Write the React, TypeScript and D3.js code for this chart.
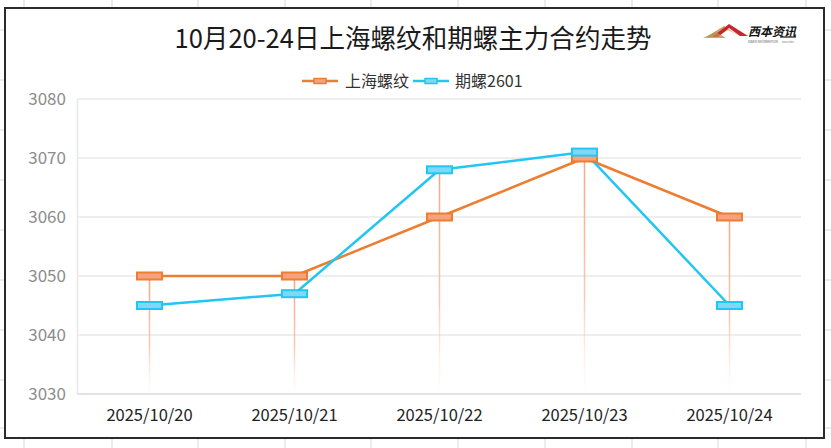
import React from "react";
import * as d3 from "d3";

const categories = ["2025/10/20", "2025/10/21", "2025/10/22", "2025/10/23", "2025/10/24"];
const spotValues = [3050, 3050, 3060, 3070, 3060];
const futuresValues = [3045, 3047, 3068, 3071, 3045];
const seriesNames = ["上海螺纹", "期螺2601"];
const yTicks = [3030, 3040, 3050, 3060, 3070, 3080];
const title = "10月20-24日上海螺纹和期螺主力合约走势";

const W = 831;
const H = 448;
const ORANGE = "#ED7D31";
const ORANGE_FILL = "#F6A27E";
const BLUE = "#22C6F2";
const BLUE_FILL = "#7FD9F6";
const FONT = "'Noto Sans CJK SC', 'Noto Sans', sans-serif";

export default function App() {
  const x = d3.scaleBand<string>().domain(categories).range([77, 802]);
  const y = d3.scaleLinear().domain([3030, 3080]).range([394, 99]);
  const cx = (c: string) => (x(c) as number) + x.bandwidth() / 2;

  const line = d3
    .line<number>()
    .x((_, i) => cx(categories[i]))
    .y((d) => y(d));

  const outerV = [24, 112, 198, 285, 371, 458, 545, 632, 718, 806];
  const outerH = [30, 80, 130, 180, 230, 280, 330, 380, 428];

  const series = [
    { name: seriesNames[0], values: spotValues, stroke: ORANGE, fill: ORANGE_FILL },
    { name: seriesNames[1], values: futuresValues, stroke: BLUE, fill: BLUE_FILL },
  ];

  return (
    <svg
      width={W}
      height={H}
      style={{ position: "fixed", left: 0, top: 0, background: "#fff" }}
      fontFamily={FONT}
    >
      <defs>
        <linearGradient id="dropGrad" x1="0" y1="0" x2="0" y2="1">
          <stop offset="0%" stopColor="#F7A584" stopOpacity={1} />
          <stop offset="60%" stopColor="#F9B79C" stopOpacity={0.75} />
          <stop offset="100%" stopColor="#FCD9CB" stopOpacity={0} />
        </linearGradient>
      </defs>
      <rect x={0} y={0} width={W} height={H} fill="#fff" />
      {outerV.map((v) => (
        <g key={"ov" + v}>
          <line x1={v} x2={v} y1={0} y2={7} stroke="#d9d9d9" strokeWidth={1} />
          <line x1={v} x2={v} y1={439} y2={H} stroke="#d9d9d9" strokeWidth={1} />
        </g>
      ))}
      {outerH.map((h) => (
        <g key={"oh" + h}>
          <line x1={0} x2={4} y1={h} y2={h} stroke="#d9d9d9" strokeWidth={1} />
          <line x1={825} x2={W} y1={h} y2={h} stroke="#d9d9d9" strokeWidth={1} />
        </g>
      ))}
      <rect x={5} y={8} width={819} height={430} fill="#fff" stroke="#2b2b2b" strokeWidth={2} />

      <text x={413} y={48} textAnchor="middle" fontSize={26} fill="#1a1a1a" textLength={477} lengthAdjust="spacingAndGlyphs">
        {title}
      </text>

      <g>
        <polygon points="706,37 724,26 733,32 742,37 728,30 716,37" fill="#C9A36A" />
        <polygon points="712,37 729,24 748,36 740,36 729,28 718,37" fill="#C8262C" />
        <polygon points="703,38 716,32 726,38" fill="#B98E55" opacity={0.8} />
        <text x={748} y={36} fontSize={12} fontWeight="bold" fill="#111" fontStyle="italic">西本资讯</text>
        <line x1={780} y1={37} x2={796} y2={37} stroke="#111" strokeWidth={1.2} />
        <text x={748} y={43} fontSize={3.6} fill="#555" textLength={30} lengthAdjust="spacingAndGlyphs">XIBEN INFORMATION</text>
        <text x={782} y={43} fontSize={3} fill="#777" textLength={12} lengthAdjust="spacingAndGlyphs">www.xiben</text>
      </g>

      {series.map((s, i) => {
        const lx = i === 0 ? 302 : 413;
        const tx = i === 0 ? 345 : 455;
        return (
          <g key={"lg" + i}>
            <line x1={lx} x2={lx + 36} y1={81} y2={81} stroke={s.stroke} strokeWidth={2.5} />
            <rect x={lx + 12} y={78.5} width={12} height={5} fill={s.fill} stroke={s.stroke} strokeWidth={1.5} />
            <text x={tx} y={87} fontSize={16} fill="#333">{s.name}</text>
          </g>
        );
      })}

      {yTicks.map((t) => (
        <g key={"g" + t}>
          <line x1={77} x2={801} y1={y(t)} y2={y(t)} stroke={t === 3030 ? "#d9d9d9" : "#e8e8e8"} strokeWidth={1.5} />
          <text x={66} y={y(t) + 6} textAnchor="end" fontSize={17} fill="#8c8c8c">{t}</text>
        </g>
      ))}
      <line x1={77.5} x2={77.5} y1={99} y2={394} stroke="#e8e8e8" strokeWidth={1.5} />

      {categories.map((c) => (
        <text key={"x" + c} x={cx(c)} y={421} textAnchor="middle" fontSize={16.5} fill="#222">{c}</text>
      ))}

      {categories.map((c, i) => {
        const top = y(Math.max(spotValues[i], futuresValues[i]));
        return (
          <rect key={"d" + c} x={cx(c) - 0.75} y={top} width={1.5} height={394 - top} fill="url(#dropGrad)" />
        );
      })}

      {series.map((s, i) => (
        <path key={"l" + i} d={line(s.values) || ""} fill="none" stroke={s.stroke} strokeWidth={2.5} strokeLinejoin="round" />
      ))}
      {series.map((s, i) => (
        <g key={"m" + i}>
          {s.values.map((v, j) => (
            <rect
              key={j}
              x={cx(categories[j]) - 12.5}
              y={y(v) - 3.5}
              width={25}
              height={7}
              fill={s.fill}
              stroke={s.stroke}
              strokeWidth={2}
            />
          ))}
        </g>
      ))}
    </svg>
  );
}
